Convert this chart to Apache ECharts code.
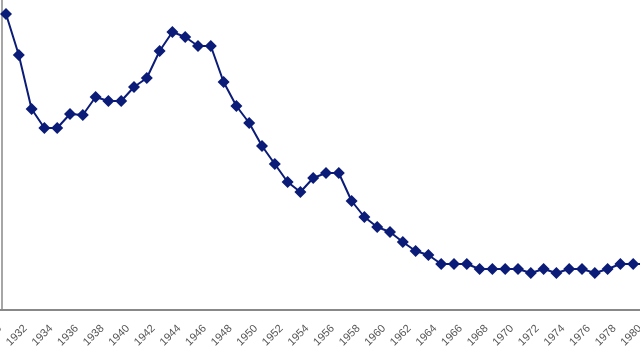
<!DOCTYPE html>
<html>
<head>
<meta charset="utf-8">
<script src="https://cdn.jsdelivr.net/npm/echarts@6/dist/echarts.min.js"></script>
<style>
html,body{margin:0;padding:0;background:#fff;}
#chart{width:640px;height:356px;}
</style>
</head>
<body>
<div id="chart"></div>
<script>
var years = ['1930','1931','1932','1933','1934','1935','1936','1937','1938','1939','1940',
  '1941','1942','1943','1944','1945','1946','1947','1948','1949','1950',
  '1951','1952','1953','1954','1955','1956','1957','1958','1959','1960',
  '1961','1962','1963','1964','1965','1966','1967','1968','1969','1970',
  '1971','1972','1973','1974','1975','1976','1977','1978','1979','1980','1981'];
var values = [null,29.6,25.5,20.1,18.2,18.2,19.6,19.5,21.3,20.9,20.9,
  22.3,23.2,25.9,27.8,27.3,26.4,26.4,22.8,20.4,18.7,
  16.4,14.6,12.8,11.8,13.2,13.7,13.7,10.9,9.3,8.3,
  7.8,6.8,5.9,5.5,4.6,4.6,4.6,4.1,4.1,4.1,
  4.1,3.7,4.1,3.7,4.1,4.1,3.7,4.1,4.6,4.6,4.6];
var yMin = 0, yMax = 31;

var chart = echarts.init(document.getElementById('chart'));
chart.setOption({
  animation: false,
  backgroundColor: '#ffffff',
  grid: {left: -6.8, right: -6, top: 0, bottom: 46, containLabel: false, outerBoundsMode: 'none'},
  xAxis: {
    type: 'category',
    data: years,
    boundaryGap: false,
    axisLine: {show: true, lineStyle: {color: '#888888', width: 2}},
    axisTick: {show: false},
    axisLabel: {
      interval: 1,
      rotate: 45,
      margin: 10,
      verticalAlign: 'top',
      padding: [4, 0, 0, 0],
      color: '#555555',
      fontSize: 11,
      fontFamily: 'Liberation Sans, Arial, sans-serif'
    },
    splitLine: {show: false}
  },
  yAxis: {
    type: 'value',
    min: yMin,
    max: yMax,
    offset: -8.3,
    axisLine: {show: true, lineStyle: {color: '#888888', width: 1.5}},
    axisTick: {show: false},
    axisLabel: {show: false},
    splitLine: {show: false}
  },
  series: [{
    type: 'line',
    data: values,
    smooth: false,
    symbol: 'diamond',
    symbolSize: 12,
    showAllSymbol: true,
    connectNulls: false,
    lineStyle: {color: '#0b1b78', width: 2},
    itemStyle: {color: '#0b1b78'},
    clip: false
  }]
});
</script>
</body>
</html>
